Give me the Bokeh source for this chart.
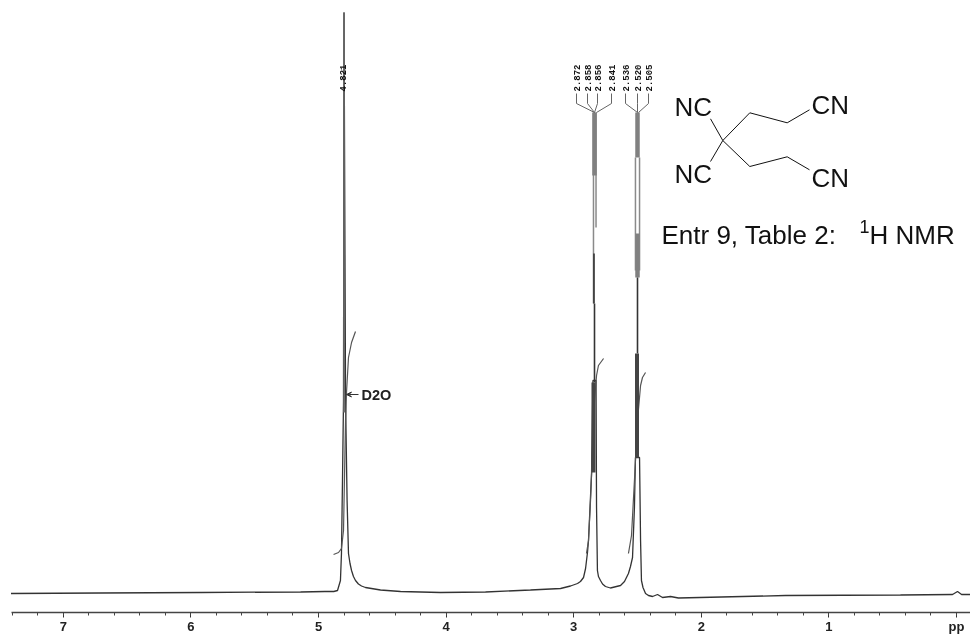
from bokeh.plotting import figure
from bokeh.models import Range1d, FixedTicker, Arrow, VeeHead
from bokeh.core.properties import value
from bokeh.embed import file_html
from bokeh.resources import INLINE
import math

# Spectrum trace: chemical shift (ppm) and height above the scale line
trace_ppm = [7.41, 6.71, 5.92, 5.14, 4.95, 4.88, 4.851, 4.828, 4.82, 4.812, 4.804, 4.80, 4.788, 4.776, 4.765, 4.753, 4.741, 4.726, 4.71, 4.687, 4.663,
             4.632, 4.514, 4.357, 4.044, 3.691, 3.339, 3.103, 3.025, 2.970, 2.947, 2.923, 2.907, 2.892, 2.884, 2.860, 2.849, 2.825,
             2.821, 2.814, 2.806, 2.790, 2.774, 2.751, 2.712, 2.633, 2.602, 2.571, 2.555, 2.539, 2.524, 2.516, 2.484, 2.476, 2.469, 2.457, 2.437, 2.414,
             2.382, 2.343, 2.304, 2.241, 2.179, 1.34, 0.439, 0.031, -0.008, -0.04, -0.11]
trace_h = [19, 19.5, 20, 20.5, 21, 21, 22, 32, 59, 132, 212, 600, 212, 112, 59, 49, 42, 36, 32, 28.5, 26.5,
           25, 22.5, 21, 20, 20.5, 22.5, 24, 26.5, 29, 31, 35, 44, 60, 72, 139, 232, 232,
           105, 42, 36, 32, 28.5, 26, 24.5, 27, 31, 39, 46, 55, 105, 155, 155, 72, 32, 25, 19, 17,
           16, 18, 15, 16, 14.5, 17, 17.5, 18, 21, 18, 18]

# Integral curves
int1_ppm = [4.882, 4.843, 4.820, 4.804, 4.788, 4.781, 4.765, 4.741, 4.71]
int1_h = [58, 60, 64, 82, 192, 219, 255, 270, 281]
int2_ppm = [2.900, 2.884, 2.868, 2.853, 2.837, 2.821, 2.806, 2.766]
int2_h = [59, 72, 112, 162, 212, 237, 247, 254]
int3_ppm = [2.571, 2.547, 2.524, 2.500, 2.476, 2.461, 2.437]
int3_h = [59, 77, 132, 192, 227, 235, 240]

# Stem of the solvent peak (ppm, top, bottom)
solvent_ppm = [4.80]
solvent_top = [600]
solvent_bot = [200]

# Multiplet stems of the peaks (ppm, top, bottom)
light_ppm = [2.845, 2.825, 2.516, 2.484]
light_top = [500, 500, 455, 455]
light_bot = [309, 385, 342, 342]
wide_ppm = [2.837, 2.500, 2.500]
wide_top = [500, 500, 379]
wide_bot = [437, 455, 335]
dark_ppm = [2.841, 2.837, 2.500]
dark_top = [359, 309, 335]
dark_bot = [309, 230, 259]
heavy_ppm = [2.845, 2.504]
heavy_top = [230, 259]
heavy_bot = [140, 155]

peak_labels = ["2.872", "2.858", "2.856", "2.841", "2.536", "2.520", "2.505"]
solvent_label = "4.821"
tick_values = [0, 1, 2, 3, 4, 5, 6, 7]
tick_labels = {0: "pp", 1: "1", 2: "2", 3: "3", 4: "4", 5: "5", 6: "6", 7: "7"}

SCALE = 127.6


def X(px):
    return (956 - px) / SCALE


def Y(py):
    return 612 - py


p = figure(width=970, height=636, output_backend="svg", toolbar_location=None,
           x_range=Range1d(X(0), X(970)), y_range=Range1d(0, 612),
           min_border_left=0, min_border_right=0, min_border_top=0, min_border_bottom=24,
           background_fill_color="white", border_fill_color="white", outline_line_color=None)
p.styles = {"position": "fixed", "left": "0px", "top": "0px"}
p.yaxis.visible = False
p.grid.visible = False

ax = p.xaxis[0]
ax.ticker = FixedTicker(ticks=tick_values, minor_ticks=[round(i * 0.2, 1) for i in range(0, 38)])
ax.major_label_overrides = tick_labels
ax.bounds = (X(970), X(11))
ax.axis_line_color = "#444444"
ax.axis_line_width = 1.4
ax.major_tick_line_color = "#333333"
ax.minor_tick_line_color = "#444444"
ax.major_tick_in = 0
ax.major_tick_out = 5
ax.minor_tick_in = 0
ax.minor_tick_out = 3
ax.major_label_standoff = 1
ax.major_label_text_font = "Liberation Sans"
ax.major_label_text_font_style = "bold"
ax.major_label_text_font_size = "13px"
ax.major_label_text_color = "#222222"

p.line(trace_ppm, trace_h, line_color="#333333", line_width=1.3)
for xs, ys in ((int1_ppm, int1_h), (int2_ppm, int2_h), (int3_ppm, int3_h)):
    p.line(xs, ys, line_color="#555555", line_width=1.2)

p.segment(solvent_ppm, solvent_bot, solvent_ppm, solvent_top, line_color="#666666", line_width=1.8)
p.segment(light_ppm, light_bot, light_ppm, light_top, line_color="#8a8a8a", line_width=1.5)
p.segment(wide_ppm, wide_bot, wide_ppm, wide_top, line_color="#808080", line_width=4.5)
p.segment(dark_ppm, dark_bot, dark_ppm, dark_top, line_color="#333333", line_width=1.6)
p.segment(heavy_ppm, heavy_bot, heavy_ppm, heavy_top, line_color="#444444", line_width=4)

# Peak-pick labels and connectors
lab_px = [576, 587, 597, 611, 625, 637, 648]
end_px = [594, 594, 594, 596, 637, 637, 638]
xs, ys = [], []
for lx, ex in zip(lab_px, end_px):
    xs.append([X(lx), X(lx), X(ex)])
    ys.append([Y(93), Y(103), Y(112)])
p.multi_line(xs, ys, line_color="#666666", line_width=1)
p.text([X(l) for l in lab_px], [Y(91)] * 7, text=peak_labels, angle=math.pi / 2,
       text_font=value("Liberation Mono"), text_font_style="bold", text_font_size="9px",
       text_align="left", text_baseline="middle", text_color="#111111")
p.text([X(342)], [Y(91)], text=[solvent_label], angle=math.pi / 2,
       text_font=value("Liberation Mono"), text_font_style="bold", text_font_size="9px",
       text_align="left", text_baseline="middle", text_color="#111111")

# D2O callout (text anchored by its vertical middle)
p.add_layout(Arrow(end=VeeHead(size=5, fill_color="#333333", line_color="#333333"),
                   x_start=X(358), y_start=Y(394), x_end=X(346), y_end=Y(394),
                   line_color="#333333", line_width=1))
p.text([X(361)], [Y(394)], text=["D2O"], text_font=value("Liberation Sans"), text_font_style="bold",
       text_font_size="14.5px", text_color="#222222", text_baseline="middle")

# Structure drawing (texts anchored by their vertical middle)
bonds = [[(710, 118.3), (722.3, 140), (710, 161)],
         [(722.3, 140), (749.3, 112.3), (786.7, 122.3), (809, 109.3)],
         [(722.3, 140), (749.3, 166), (786.7, 156.3), (809, 169.3)]]
p.multi_line([[X(a) for a, b in b_] for b_ in bonds], [[Y(b) for a, b in b_] for b_ in bonds],
             line_color="#111111", line_width=1)
struct_text = [("NC", 674, 106), ("CN", 811, 104), ("NC", 674, 173), ("CN", 811, 177),
               ("Entr 9, Table 2:", 661, 234), ("H NMR", 869, 234)]
p.text([X(t[1]) for t in struct_text], [Y(t[2]) for t in struct_text], text=[t[0] for t in struct_text],
       text_font=value("Liberation Sans"), text_font_size="26px", text_color="#111111",
       text_baseline="middle")
p.text([X(859)], [Y(225.5)], text=["1"], text_font=value("Liberation Sans"), text_font_size="18px",
       text_color="#111111", text_baseline="middle")

open("out.html", "w").write(file_html(p, INLINE))
